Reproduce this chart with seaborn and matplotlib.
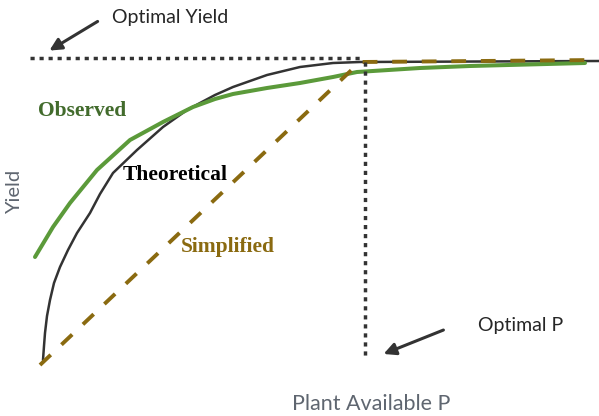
import matplotlib
matplotlib.use("Agg")
import matplotlib.pyplot as plt
import seaborn as sns

# values (P and yield in arbitrary units)
theo_p = [43, 44, 45, 47, 50, 54, 60, 68, 77, 90, 100, 113, 137, 163, 187, 200,
          215, 233, 250, 267, 300, 333, 360, 599]
theo_y = [56, 70, 83, 100, 116, 133, 149, 166, 183, 203, 222, 243, 266, 289, 306, 313,
          321, 329, 335, 341, 349, 353, 354, 355]

obs_p = [35, 53, 70, 97, 130, 163, 193, 215, 233, 267, 300, 333, 357, 420, 470, 585]
obs_y = [159, 189, 213, 246, 276, 294, 309, 317, 322, 328, 333, 339, 344, 348, 350, 353]

simp_p = [40, 360, 600]
simp_y = [51, 354, 356]

optimal_yield = 354
optimal_p = 365

sns.set_style("white")
fig = plt.figure(figsize=(5.99, 4.16), dpi=100)
ax = fig.add_axes([0, 0, 1, 1])

sns.lineplot(x=theo_p, y=theo_y, sort=False, color="#333333", linewidth=1.8, ax=ax)
sns.lineplot(x=obs_p, y=obs_y, sort=False, color="#5b9a3a", linewidth=2.9, ax=ax)
sns.lineplot(x=simp_p, y=simp_y, sort=False, color="#8a6a10", linewidth=2.8,
             linestyle=(0, (3.8, 3.8)), ax=ax)

# dotted reference lines
dot = dict(color="#333333", linewidth=2.5, linestyle=(0, (1.2, 1.4)))
ax.plot([30, optimal_p - 5], [optimal_yield + 4, optimal_yield + 4], **dot)
ax.plot([optimal_p, optimal_p], [optimal_yield, 58], **dot)

ax.set_xlim(0, 599)
ax.set_ylim(0, 416)
ax.axis("off")

sans = "Lato"
arrow = dict(arrowstyle="-|>", color="#333333", lw=2.2, mutation_scale=18)
ax.annotate("", xy=(47, 364), xytext=(100, 396), arrowprops=arrow)
ax.text(112, 398, "Optimal Yield", fontsize=14, family=sans, ha="left", va="center")
ax.annotate("", xy=(381, 61), xytext=(446, 87), arrowprops=arrow)
ax.text(478, 90, "Optimal P", fontsize=14, family=sans, ha="left", va="center")

ax.text(15, 224, "Yield", fontsize=14.5, family=sans, color="#5f6670",
        rotation=90, ha="center", va="center")
ax.text(371, 12, "Plant Available P", fontsize=15.5, family=sans, color="#5f6670",
        ha="center", va="center")

serif = "Liberation Serif"
ax.text(82, 305, "Observed", fontsize=15.5, family=serif, weight="bold",
        color="#426b2c", ha="center", va="center")
ax.text(175, 241, "Theoretical", fontsize=15.5, family=serif, weight="bold",
        color="black", ha="center", va="center")
ax.text(228, 169, "Simplified", fontsize=15.5, family=serif, weight="bold",
        color="#8a6a10", ha="center", va="center")

fig.savefig("out.png", dpi=100)
